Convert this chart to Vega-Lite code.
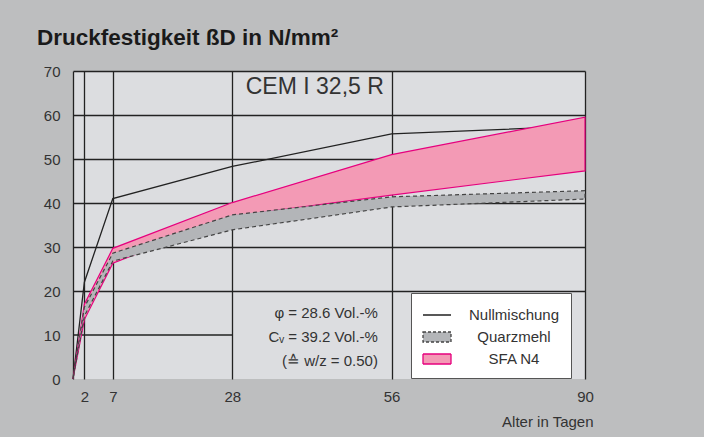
{
  "$schema": "https://vega.github.io/schema/vega-lite/v6.json",
  "width": 512,
  "height": 308,
  "autosize": {"type": "none"},
  "padding": {"left": 73, "top": 71, "right": 119, "bottom": 58},
  "background": "#bdbebf",
  "title": {
    "text": "Druckfestigkeit ßD in N/mm²",
    "anchor": "start",
    "frame": "group",
    "dx": -36,
    "offset": -3,
    "baseline": "alphabetic",
    "font": "Liberation Sans",
    "fontSize": 22.5,
    "fontWeight": "bold",
    "color": "#1a1a1a"
  },
  "config": {
    "view": {"fill": "#dcdde0", "stroke": null},
    "font": "Liberation Sans"
  },
  "datasets": {
    "nullm": [
      {"series": "Nullmischung", "t": 0, "v": 0},
      {"series": "Nullmischung", "t": 2, "v": 22},
      {"series": "Nullmischung", "t": 7, "v": 41},
      {"series": "Nullmischung", "t": 28, "v": 48.3},
      {"series": "Nullmischung", "t": 56, "v": 55.7},
      {"series": "Nullmischung", "t": 90, "v": 57.5}
    ],
    "sfa": [
      {"series": "SFA N4", "t": 0, "lo": 0, "hi": 0},
      {"series": "SFA N4", "t": 2, "lo": 13.5, "hi": 17},
      {"series": "SFA N4", "t": 7, "lo": 26.3, "hi": 29.7},
      {"series": "SFA N4", "t": 28, "lo": 37.0, "hi": 40.1},
      {"series": "SFA N4", "t": 56, "lo": 41.8, "hi": 51},
      {"series": "SFA N4", "t": 90, "lo": 47.3, "hi": 59.5}
    ],
    "quarz": [
      {"series": "Quarzmehl", "t": 0, "lo": 0, "hi": 0},
      {"series": "Quarzmehl", "t": 2, "lo": 14.3, "hi": 16.3},
      {"series": "Quarzmehl", "t": 7, "lo": 26.8, "hi": 28.6},
      {"series": "Quarzmehl", "t": 28, "lo": 33.9, "hi": 37.3},
      {"series": "Quarzmehl", "t": 56, "lo": 39.1, "hi": 41.4},
      {"series": "Quarzmehl", "t": 90, "lo": 40.9, "hi": 42.8}
    ],
    "grid10": [{"t": 0, "t2": 28, "v": 10}],
    "cem": [{"t": 42.5, "v": 66.4, "label": "CEM I 32,5 R"}],
    "notes": [
      {"t": 53.6, "v": 14.9, "label": "φ = 28.6 Vol.-%"},
      {"t": 53.6, "v": 9.6, "label": "Cᵥ = 39.2 Vol.-%"},
      {"t": 53.6, "v": 4.1, "label": "(≙ w/z = 0.50)"}
    ]
  },
  "layer": [
    {
      "data": {"name": "grid10"},
      "mark": {"type": "rule", "color": "#222", "strokeWidth": 1.3},
      "encoding": {
        "x": {
          "field": "t", "type": "quantitative",
          "scale": {"domain": [0, 90], "nice": false},
          "axis": {
            "values": [0, 2, 7, 28, 56, 90],
            "grid": true, "gridColor": "#222", "gridWidth": 1.3,
            "domain": false, "ticks": false,
            "labelExpr": "datum.value == 0 ? '' : datum.label",
            "labelFlush": false, "labelOverlap": false,
            "labelPadding": 10, "labelFontSize": 15, "labelColor": "#333",
            "title": "Alter in Tagen", "titleFontWeight": "normal",
            "titleFontSize": 15, "titleColor": "#333",
            "titleX": 520, "titleY": 42, "titleAlign": "right", "titleBaseline": "middle"
          }
        },
        "x2": {"field": "t2"},
        "y": {
          "field": "v", "type": "quantitative",
          "scale": {"domain": [0, 70], "nice": false},
          "axis": {
            "values": [0, 10, 20, 30, 40, 50, 60, 70],
            "grid": true, "gridColor": "#222", "gridWidth": 1.3,
            "gridOpacity": {"condition": {"test": "datum.value <= 10", "value": 0}, "value": 1},
            "domain": false, "ticks": false,
            "labelPadding": 13, "labelFontSize": 15, "labelColor": "#333",
            "title": null
          }
        }
      }
    },
    {
      "data": {"name": "nullm"},
      "mark": {"type": "line", "strokeWidth": 1.3},
      "encoding": {
        "x": {"field": "t", "type": "quantitative"},
        "y": {"field": "v", "type": "quantitative"},
        "stroke": {
          "field": "series", "type": "nominal",
          "scale": {"domain": ["Nullmischung", "Quarzmehl", "SFA N4"], "range": ["#222222", "#444444", "#e6007e"]},
          "legend": {
            "orient": "none", "legendX": 338, "legendY": 222,
            "title": null,
            "fillColor": "white", "strokeColor": "#555",
            "padding": 11,
            "symbolSize": 400, "symbolOffset": 4,
            "symbolType": "M-1.4,-0.5H1.4V0.5H-1.4Z",
            "symbolStrokeWidth": 1.3,
            "labelOffset": 66, "labelAlign": "center",
            "labelFontSize": 15, "labelColor": "#333",
            "rowPadding": 3,
            "encode": {
              "symbols": {
                "update": {
                  "shape": {"signal": "datum.value === 'Nullmischung' ? 'M-1.4,0H1.4' : 'M-1.4,-0.5H1.4V0.5H-1.4Z'"},
                  "strokeDash": {"signal": "datum.value === 'Quarzmehl' ? [3, 2] : [1, 0]"},
                  "strokeWidth": {"value": 1.3},
                  "opacity": {"value": 1},
                  "fillOpacity": {"value": 1},
                  "strokeOpacity": {"value": 1}
                }
              }
            }
          }
        }
      }
    },
    {
      "data": {"name": "sfa"},
      "mark": {"type": "area", "strokeWidth": 1.2, "opacity": 1, "fillOpacity": 1},
      "encoding": {
        "x": {"field": "t", "type": "quantitative"},
        "y": {"field": "hi", "type": "quantitative"},
        "y2": {"field": "lo"},
        "fill": {
          "field": "series", "type": "nominal",
          "scale": {"domain": ["Nullmischung", "Quarzmehl", "SFA N4"], "range": ["transparent", "#b3b5b8", "#f39ab5"]}
        },
        "stroke": {"field": "series", "type": "nominal"}
      }
    },
    {
      "data": {"name": "quarz"},
      "mark": {"type": "area", "strokeWidth": 1.2, "strokeDash": [4, 3], "opacity": 1, "fillOpacity": 1},
      "encoding": {
        "x": {"field": "t", "type": "quantitative"},
        "y": {"field": "hi", "type": "quantitative"},
        "y2": {"field": "lo"},
        "fill": {"field": "series", "type": "nominal"},
        "stroke": {"field": "series", "type": "nominal"}
      }
    },
    {
      "data": {"name": "cem"},
      "mark": {"type": "text", "fontSize": 23, "color": "#333", "align": "center", "baseline": "middle"},
      "encoding": {
        "x": {"field": "t", "type": "quantitative"},
        "y": {"field": "v", "type": "quantitative"},
        "text": {"field": "label"}
      }
    },
    {
      "data": {"name": "notes"},
      "mark": {"type": "text", "fontSize": 15, "color": "#333", "align": "right", "baseline": "middle"},
      "encoding": {
        "x": {"field": "t", "type": "quantitative"},
        "y": {"field": "v", "type": "quantitative"},
        "text": {"field": "label"}
      }
    }
  ]
}
